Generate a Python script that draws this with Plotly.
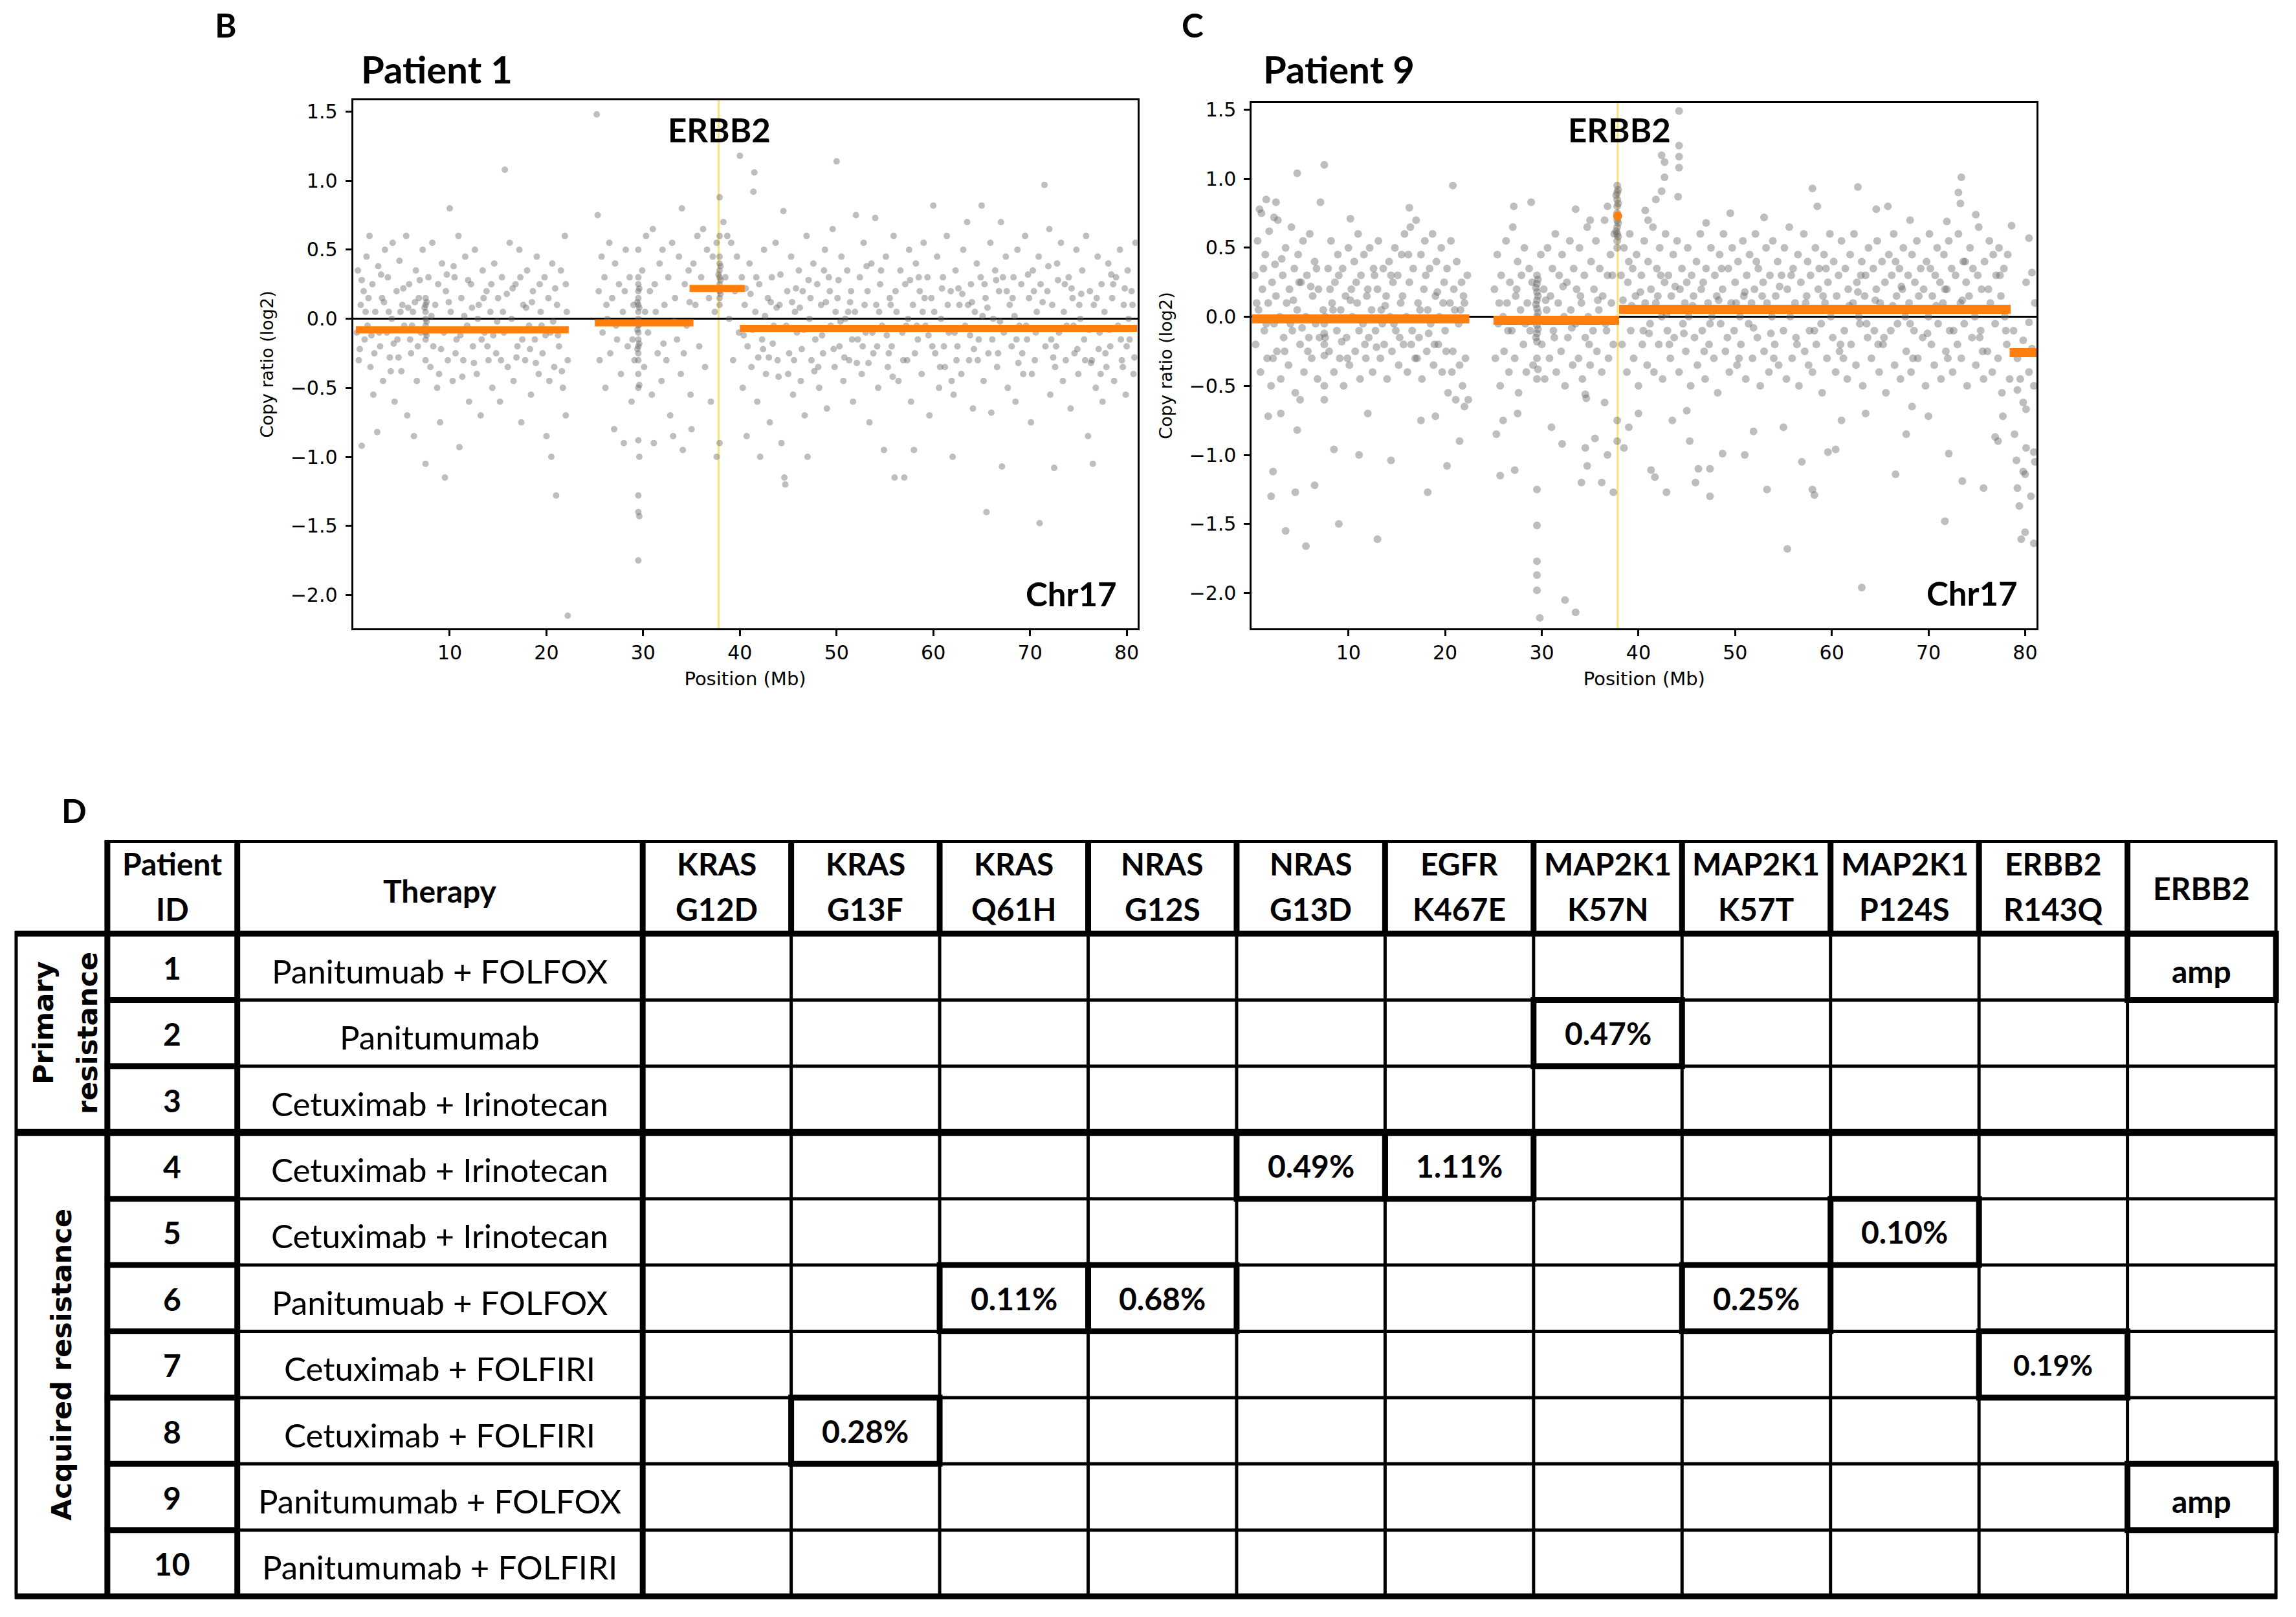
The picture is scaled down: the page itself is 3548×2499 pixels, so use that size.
import plotly.graph_objects as go

W, H = 3548, 2499

# ---------------- panel B: Patient 1, chr17 copy ratio (Mb, log2) ----------------
P1_POINTS = [
    (0.5,0.35),(0.6,-0.3),(0.8,0.1),(0.9,-0.92),(1.1,0.2),(1.2,-0.15),(1.4,0.45),(1.5,-0.05),(1.7,0.6),(1.8,-0.35),
    (2.0,0.25),(2.1,-0.55),(2.3,0.05),(2.5,-0.82),(2.6,0.38),(2.8,-0.2),(3.0,0.15),(3.1,-0.45),(3.3,0.5),(3.5,-0.1),
    (3.6,0.3),(3.8,-0.28),(4.0,0.0),(4.1,0.55),(4.3,-0.6),(4.5,0.2),(4.6,-0.15),(4.8,0.42),(5.0,-0.38),(5.1,0.1),
    (5.3,-0.05),(5.5,0.6),(5.6,-0.7),(5.8,0.25),(6.0,-0.25),(6.2,0.05),(6.3,-0.85),(6.5,0.35),(6.6,-0.45),(6.8,0.15),
    (7.0,-0.1),(7.2,0.5),
    (7.5,0.15),(7.5,0.1),(7.5,0.05),(7.5,0.0),(7.5,-0.05),(7.5,-0.1),(7.5,-0.15),(7.6,0.12),(7.6,-0.02),(7.6,-0.12),
    (7.4,0.08),(7.4,-0.08),(7.5,-1.05),(7.5,-0.3),
    (7.8,0.3),(8.0,-0.35),(8.2,0.55),(8.3,-0.2),(8.5,0.1),(8.7,-0.5),(8.8,0.25),(9.0,-0.75),(9.2,0.4),(9.4,-0.1),
    (9.5,-1.15),(9.6,0.2),(9.8,-0.3),(10.0,0.8),(10.1,0.05),(10.3,-0.45),(10.5,0.3),(10.7,-0.15),(10.9,0.6),(11.0,-0.93),
    (11.2,0.15),(11.4,-0.3),(11.6,0.45),(11.8,-0.05),(12.0,-0.6),(12.2,0.25),(12.4,-0.2),(12.6,0.5),(12.8,-0.4),(13.0,0.1),
    (13.2,-0.7),(13.4,0.35),(13.6,-0.1),(13.8,0.2),(14.0,-0.3),(14.2,0.05),(14.4,-0.5),(14.6,0.4),(14.8,-0.25),(15.0,0.15),
    (15.2,-0.6),(15.4,0.3),(15.6,-0.1),(15.7,1.08),(16.0,-0.35),(16.2,0.55),(16.4,0.0),(16.6,-0.45),(16.8,0.25),(17.0,-0.2),
    (17.2,0.5),(17.4,-0.75),(17.6,0.1),(17.8,-0.3),(18.0,0.35),(18.2,-0.05),(18.4,-0.55),(18.6,0.2),(18.8,-0.15),(19.0,0.45),
    (19.2,-0.4),(19.4,0.05),(19.6,-0.25),(19.8,0.3),(20.0,-0.85),(20.2,0.15),(20.4,-0.1),(20.5,-1.0),(20.6,0.4),(20.8,-0.35),
    (21.0,-1.28),(21.1,0.1),(21.3,-0.2),(21.5,0.35),(21.7,-0.5),(21.9,0.6),(22.0,-0.7),(22.1,0.05),(22.2,-2.15),(22.2,-0.3),
    (0.4,-0.1),(1.3,0.05),(2.2,-0.25),(3.2,0.12),(4.2,-0.18),(5.2,0.22),(6.1,-0.05),(6.9,0.28),(8.1,0.02),(9.1,-0.22),
    (9.9,0.12),(11.1,-0.12),(11.9,0.28),(12.9,0.0),(13.9,-0.2),(14.9,-0.02),(15.9,0.18),(16.9,-0.28),(17.9,0.08),(18.9,-0.32),
    (19.9,-0.12),(20.9,0.22),(21.8,-0.08),
    (0.7,-0.22),(1.6,0.15),(2.7,-0.1),(3.7,0.05),(4.7,-0.28),(5.7,0.08),(6.7,-0.2),(8.6,-0.08),(9.7,0.32),(10.6,-0.25),
    (11.5,0.02),(12.5,-0.32),(13.5,0.15),(14.5,-0.12),(15.5,0.05),(16.5,0.22),(17.5,-0.15),(18.5,0.12),(19.5,-0.05),(20.3,-0.45),
    (21.2,-0.12),(22.0,0.25),
    (0.9,0.28),(1.9,-0.12),(2.9,0.32),(3.9,-0.38),(4.9,0.05),(5.9,-0.15),(6.4,0.12),(8.9,-0.4),(10.4,0.38),(11.3,-0.42),
    (12.3,0.08),(13.3,-0.15),(14.3,0.25),(15.3,-0.3),(16.3,-0.08),(17.3,0.3),(18.3,-0.22),(19.3,0.25),(20.7,-0.02),(21.6,-0.38),
    (25.2,1.48),(25.3,0.75),(25.4,0.2),(25.5,-0.3),(25.7,0.45),(25.8,-0.1),(26.0,0.3),(26.1,-0.5),(26.3,0.0),(26.5,0.55),
    (26.6,-0.25),(26.8,0.15),(27.0,-0.8),(27.1,0.4),(27.3,-0.15),(27.5,0.25),(27.7,-0.4),(27.9,0.05),(28.0,-0.9),(28.2,0.5),
    (28.4,-0.2),(28.6,0.3),(28.8,-0.6),(29.0,0.1),(29.1,-0.3),
    (29.5,0.3),(29.5,0.25),(29.5,0.2),(29.5,0.15),(29.5,0.1),(29.5,0.05),(29.5,0.0),(29.5,-0.05),(29.5,-0.1),(29.5,-0.15),
    (29.5,-0.2),(29.5,-0.25),(29.5,-0.3),(29.6,0.22),(29.6,0.08),(29.6,-0.04),(29.6,-0.18),(29.4,0.12),(29.4,-0.08),(29.4,-0.22),
    (29.5,-0.5),(29.6,-0.48),(29.5,-0.88),(29.6,-1.0),(29.5,-1.28),(29.5,-1.4),(29.6,-1.43),(29.5,-1.75),(29.5,0.5),(29.5,-0.4),
    (29.9,0.35),(30.1,-0.35),(30.3,0.6),(30.5,-0.1),(30.7,0.2),(30.9,-0.55),(31.0,0.65),(31.1,-0.9),(31.3,0.05),(31.5,-0.25),
    (31.7,0.4),(31.9,-0.45),(32.0,0.5),(32.2,0.1),(32.4,-0.3),(32.6,0.3),(32.8,-0.7),(33.0,0.55),(33.1,-0.85),(33.3,0.15),
    (33.5,-0.15),(33.7,0.45),(33.9,-0.4),(34.0,0.8),(34.1,-0.95),(34.3,0.25),(34.5,-0.05),(34.7,0.35),(34.9,-0.55),(35.0,-0.8),
    (26.2,0.1),(27.2,-0.05),(28.1,0.2),(28.9,-0.15),(30.2,0.05),(31.2,0.25),(32.1,-0.18),(33.2,-0.02),(34.2,-0.25),(34.8,0.12),
    (35.2,0.4),(35.4,0.1),(35.6,0.6),(35.8,-0.2),(36.0,0.3),(36.2,0.65),(36.4,-0.35),(36.6,0.5),(36.8,0.15),(37.0,-0.6),
    (37.2,0.45),(37.4,0.05),(37.6,0.55),(37.6,-1.0),
    (37.9,0.45),(37.9,0.4),(37.9,0.35),(37.9,0.3),(37.9,0.25),(37.9,0.2),(37.9,0.15),(37.9,0.1),(38.0,0.38),(38.0,0.28),
    (38.0,0.18),(37.8,0.32),(37.8,0.22),(37.9,0.88),(37.9,0.6),(37.9,-0.9),
    (38.3,0.7),(38.5,0.3),(38.7,0.6),(38.9,0.0),(39.1,0.55),(39.3,-0.3),(39.5,0.2),(39.7,0.45),(39.9,-0.1),
    (40.0,1.18),(40.2,0.3),(40.3,-0.5),(40.5,0.1),(40.7,-0.85),(40.8,-0.2),(41.0,0.4),(41.2,-0.35),(41.4,0.92),(41.5,1.06),
    (41.6,0.05),(41.8,-0.6),(42.0,0.25),(42.1,-1.0),(42.3,-0.15),(42.5,0.5),(42.7,-0.4),(42.9,0.15),(43.1,-0.75),(43.3,0.3),
    (43.5,-0.05),(43.7,0.55),(43.9,-0.3),(44.1,0.1),(44.3,-0.9),(44.5,0.78),(44.6,-1.15),(44.7,-1.2),(44.9,0.2),(45.1,-0.25),
    (45.3,0.45),(45.5,-0.55),(45.7,0.05),(45.9,-0.1),(46.1,0.35),(46.3,-0.45),(46.5,0.2),(46.7,-0.7),(46.9,0.6),(47.0,-1.0),
    (47.2,0.0),(47.4,-0.3),(47.6,0.4),(47.8,-0.15),(48.0,0.25),(48.2,-0.5),(48.4,0.1),(48.6,-0.25),(48.8,0.5),(49.0,-0.65),
    (49.2,0.3),(49.4,-0.05),(49.6,0.65),(49.8,-0.35),(50.0,1.14),(50.1,0.15),(50.3,-0.2),(50.5,0.45),(50.7,-0.45),(50.9,0.0),
    (51.1,0.35),(51.3,-0.3),(51.5,0.2),(51.7,-0.6),(51.9,0.05),(52.0,0.75),(52.2,-0.15),(52.4,0.3),(52.6,-0.4),(52.8,0.55),
    (53.0,-0.1),(53.2,0.2),(53.4,-0.75),(53.6,0.4),(53.8,-0.25),(54.0,0.73),(54.1,0.1),(54.3,-0.5),(54.5,0.25),(54.7,-0.05),
    (54.9,-0.95),(55.1,0.45),(55.3,-0.35),(55.5,0.15),(55.7,-0.2),(55.9,0.6),(56.0,-1.15),(56.2,0.05),(56.4,-0.45),(56.6,0.35),
    (56.8,-0.1),(57.0,-1.15),(57.1,0.25),(57.3,-0.3),(57.5,0.5),(57.7,-0.6),(57.9,0.1),(58.0,-0.95),(58.2,0.4),(58.4,-0.15),
    (58.6,0.2),(58.8,-0.4),(59.0,0.55),(59.2,-0.05),(59.4,0.3),(59.6,-0.7),(59.8,0.15),(60.0,0.82),(60.2,-0.25),(60.4,0.45),
    (60.6,-0.5),(60.8,0.0),(61.0,0.3),(61.2,-0.35),(61.4,0.6),(61.6,-0.1),(61.8,0.2),(62.0,-1.0),(62.1,-0.55),(62.3,0.35),
    (62.5,-0.2),(62.7,0.1),(62.9,-0.4),(63.1,0.5),(63.3,-0.05),(63.5,0.7),(63.7,-0.3),(63.9,0.25),(64.1,-0.65),(64.3,0.05),
    (64.5,0.4),(64.7,-0.15),(64.9,0.3),(65.0,0.82),(65.2,-0.45),(65.4,0.15),(65.5,-1.4),(65.7,-0.25),(65.9,0.55),(66.0,-0.68),
    (66.2,0.0),(66.4,0.35),(66.6,-0.35),(66.8,0.2),(67.0,0.7),(67.1,-1.07),(67.3,-0.1),(67.5,0.45),(67.7,-0.5),(67.9,0.1),
    (68.1,-0.2),(68.3,0.3),(68.5,-0.6),(68.7,0.5),(68.9,-0.05),(69.1,0.25),(69.3,-0.4),(69.5,0.6),(69.7,-0.15),(69.9,0.15),
    (70.1,-0.75),(70.3,0.35),(70.5,-0.3),(70.7,0.05),(70.9,0.45),(71.0,-1.48),(71.5,0.97),(71.6,-0.2),(71.8,0.2),(72.0,0.65),
    (72.1,-0.55),(72.3,0.1),(72.5,-1.08),(72.6,-0.35),(72.8,0.4),(73.0,-0.1),(73.2,0.55),(73.4,-0.45),(73.6,0.25),(73.8,-0.05),
    (74.0,0.3),(74.2,-0.65),(74.4,0.15),(74.6,-0.25),(74.8,0.5),(75.0,-0.4),(75.2,0.0),(75.4,0.35),(75.6,-0.15),(75.8,0.6),
    (76.0,-0.85),(76.2,0.2),(76.4,-0.3),(76.5,-1.05),(76.6,0.1),(76.8,-0.5),(77.0,0.45),(77.2,-0.1),(77.4,0.25),(77.5,-0.6),
    (77.7,0.05),(77.9,-0.35),(78.1,0.4),(78.3,-0.2),(78.5,0.15),(78.7,-0.45),(78.9,0.3),(79.1,-0.05),(79.3,0.5),(79.5,-0.3),
    (79.7,0.1),(79.9,-0.55),(80.1,0.35),(80.3,-0.15),(80.5,0.2),(80.7,-0.4),(80.9,0.55),
    (40.4,-0.12),(41.1,0.18),(41.9,-0.28),(42.6,0.02),(43.4,-0.18),(44.2,0.32),(45.0,-0.4),(45.8,0.22),(46.6,-0.08),(47.3,0.15),
    (48.1,-0.35),(48.9,0.12),(49.7,-0.22),(50.4,-0.02),(51.2,0.05),(52.1,-0.32),(52.9,0.1),(53.7,-0.1),(54.4,0.05),(55.2,-0.12),
    (56.1,0.2),(56.9,-0.3),(57.6,0.28),(58.3,-0.05),(59.1,0.15),(59.9,-0.2),(60.7,-0.35),(61.5,0.1),(62.2,-0.1),(63.0,0.18),
    (63.8,-0.12),(64.6,-0.3),(65.3,0.25),(66.1,-0.15),(66.9,-0.02),(67.6,0.2),(68.4,0.02),(69.2,-0.25),(69.8,0.32),(70.6,-0.1),
    (71.3,0.12),(72.2,-0.15),(72.9,0.28),(73.7,-0.3),(74.5,-0.05),(75.3,0.18),(76.1,-0.08),(76.9,0.15),(77.8,-0.25),(78.6,0.25),
    (79.4,-0.15),(80.2,0.0),(80.8,-0.28),(42.4,-0.22),(44.8,-0.05),(46.2,0.08),(48.7,0.35),(50.8,-0.28),(53.1,0.38),(55.8,-0.42),
    (58.9,0.05),(61.9,-0.45),(64.0,0.12),(66.5,0.28),(68.8,-0.32),(71.9,0.38),(74.9,-0.22),(77.3,-0.4),(79.8,0.22),
    (40.6,0.22),(41.3,-0.08),(43.0,-0.28),(43.8,0.08),(45.4,0.12),(46.4,-0.22),(47.7,-0.38),(49.3,0.2),(50.2,0.28),(51.6,-0.15),
    (53.3,-0.32),(54.2,-0.2),(55.6,0.1),(57.2,-0.05),(58.1,-0.25),(59.5,-0.12),(61.1,-0.2),(62.6,0.22),(64.2,-0.22),(65.1,0.02),
    (66.7,-0.25),(68.2,0.15),(69.6,-0.05),(70.4,0.2),(72.4,-0.28),(73.5,0.05),(75.1,0.1),(76.3,-0.32),(78.2,-0.08),(79.6,-0.35),
    (41.7,0.3),(43.2,0.12),(44.0,-0.42),(45.6,-0.3),(47.1,0.28),(48.5,-0.12),(49.9,0.05),(51.4,0.12),(52.7,-0.2),(54.6,0.35),
    (55.4,-0.25),(57.4,0.0),(58.5,0.3),(60.1,0.05),(60.9,0.22),(62.4,-0.3),(63.6,0.1),(65.6,0.08),(67.2,0.3),(68.6,-0.15),
    (70.2,-0.4),(71.1,0.25),(72.7,-0.2),(74.3,0.22),(75.7,-0.3),(77.1,-0.22),(78.4,0.32),(80.0,-0.2),(80.6,0.1),
]
# segmented copy ratio: (start Mb, end Mb, log2)
P1_SEGMENTS = [(0.3, 22.3, -0.08), (25.0, 35.2, -0.03), (34.8, 40.5, 0.22), (40.0, 81.1, -0.07)]
P1_FOCAL = []
P1_ERBB2 = 37.8

# ---------------- panel C: Patient 9 ----------------
P9_POINTS = [
    (0.3,0.3),(0.4,-0.2),(0.6,0.55),(0.7,0.05),(0.9,-0.4),(1.0,0.75),(1.1,0.2),(1.3,-0.1),(1.4,0.45),(1.6,-0.3),
    (1.7,0.1),(1.8,0.62),(2.0,-0.5),(2.1,0.25),(2.3,-0.05),(2.4,0.38),(2.6,-0.25),(2.7,0.7),(2.9,0.0),(3.0,-0.45),
    (3.2,0.3),(3.3,-0.15),(3.5,0.5),(3.6,0.1),(3.8,-0.35),(3.9,0.2),(4.1,0.65),(4.2,-0.1),(4.4,0.35),(4.5,-0.55),
    (4.7,0.05),(4.8,0.45),(5.0,-0.2),(5.1,0.25),(5.3,0.55),(5.4,-0.4),(5.6,0.0),(5.7,0.3),(5.9,-0.15),(6.0,0.6),
    (6.2,-0.3),(6.3,0.15),(6.5,0.4),(6.6,-0.05),(6.8,-0.45),(6.9,0.2),
    (7.4,0.05),(7.5,-0.05),(7.5,-0.12),(7.5,-0.2),(7.5,-0.28),(7.6,0.0),(7.6,-0.15),(7.5,-0.5),(7.5,-0.6),
    (7.9,0.35),(8.0,-0.25),(8.2,0.55),(8.3,0.1),(8.5,-0.4),(8.6,0.25),(8.8,-0.1),(8.9,0.45),(9.1,-0.3),(9.2,0.05),
    (9.4,0.35),(9.5,-0.5),(9.7,0.15),(9.8,-0.15),(10.0,0.5),(10.1,-0.35),(10.3,0.2),(10.4,0.0),(10.6,0.4),(10.7,-0.25),
    (10.9,0.1),(11.0,0.6),(11.2,-0.45),(11.3,0.3),(11.5,-0.05),(11.6,0.45),(11.8,-0.3),(11.9,0.15),(12.1,-0.15),(12.2,0.5),
    (12.4,0.05),(12.5,-0.4),(12.7,0.3),(12.8,-0.1),(13.0,0.2),(13.1,0.55),(13.3,-0.3),(13.4,0.05),(13.6,0.35),(13.7,-0.2),
    (13.9,0.15),(14.0,-0.45),(14.2,0.4),(14.3,0.0),(14.5,-0.25),(14.6,0.25),(14.8,0.5),(14.9,-0.1),(15.1,0.3),(15.2,-0.35),
    (15.4,0.1),(15.5,0.45),(15.7,-0.2),(15.8,0.6),(16.0,0.0),(16.1,-0.4),(16.3,0.25),(16.4,0.65),(16.6,-0.1),(16.7,0.35),
    (16.9,-0.3),(17.0,0.7),(17.2,0.1),(17.3,-0.15),(17.5,0.45),(17.6,-0.45),(17.8,0.2),(17.9,0.55),(18.1,-0.25),(18.2,0.05),
    (18.4,0.35),(18.5,-0.05),(18.7,0.6),(18.8,-0.35),(19.0,0.15),(19.1,0.4),(19.3,-0.2),(19.4,0.0),(19.6,0.5),(19.7,-0.4),
    (19.9,0.25),(20.0,-0.1),(20.2,0.35),(20.3,-0.55),(20.5,0.1),(20.6,0.55),(20.8,-0.25),(20.9,0.2),(21.1,-0.6),(21.2,0.4),
    (21.4,-0.05),(21.5,-0.35),(21.7,0.25),(21.8,-0.5),(22.0,0.1),(22.1,-0.3),(22.3,0.3),(22.4,-0.6),
    (0.5,0.1),(1.5,-0.05),(2.5,0.15),(3.4,-0.25),(4.3,0.12),(5.2,-0.08),(6.1,0.22),(7.0,-0.15),(8.4,0.05),(9.3,-0.18),
    (10.2,0.12),(11.1,-0.1),(12.0,0.2),(12.9,-0.22),(13.8,0.08),(14.7,-0.05),(15.6,0.15),(16.5,-0.2),(17.4,0.05),(18.3,-0.12),
    (19.2,0.18),(20.1,-0.25),(21.0,0.05),(21.9,0.15),
    (1.2,0.35),(2.2,-0.3),(3.1,0.42),(4.0,-0.05),(4.9,0.25),(5.8,-0.25),(6.7,0.35),(8.1,0.2),(9.0,0.3),(9.9,-0.3),
    (10.8,0.25),(11.7,-0.2),(12.6,0.35),(13.5,-0.05),(14.4,0.3),(15.3,-0.15),(16.2,0.45),(17.1,-0.3),(18.0,0.3),(18.9,-0.2),
    (19.8,0.1),(20.7,-0.4),(21.6,0.05),
    (4.7,1.04),(7.5,1.1),(7.1,0.83),(10.2,0.71),(20.8,0.95),(16.3,0.79),(1.7,-0.72),(2.0,-1.3),(2.2,-1.12),(3.5,-1.55),
    (4.5,-1.27),(5.6,-1.66),(6.5,-1.22),(8.5,-0.96),(9.0,-1.5),(11.1,-1.0),(13.0,-1.61),(14.4,-1.04),(18.2,-1.27),(20.2,-1.08),
    (4.7,-0.82),(5.0,-0.6),(3.0,-0.7),(19.0,-0.72),(17.5,-0.75),(21.5,-0.9),(22.0,-0.65),(0.8,0.78),(2.5,0.83),(12.0,-0.7),
    (1.5,0.85),(2.3,0.72),
    (25.1,0.2),(25.2,-0.3),(25.4,0.45),(25.5,-0.05),(25.7,-0.5),(25.8,0.3),(26.0,0.0),(26.1,-0.25),(26.3,0.55),(26.4,0.1),
    (26.6,-0.4),(26.7,0.25),(26.9,-0.1),(27.0,0.65),(27.2,-0.3),(27.3,0.15),(27.5,0.4),(27.6,-0.55),(27.8,0.05),(27.9,0.3),
    (28.1,-0.2),(28.2,0.5),(28.4,-0.4),(28.5,0.1),(28.7,0.35),(28.8,-0.1),(29.0,0.25),(29.1,-0.35),
    (29.5,0.3),(29.5,0.24),(29.5,0.18),(29.5,0.12),(29.5,0.06),(29.5,0.0),(29.5,-0.06),(29.5,-0.12),(29.5,-0.18),(29.6,0.27),
    (29.6,0.15),(29.6,0.03),(29.6,-0.09),(29.4,0.21),(29.4,0.09),(29.4,-0.03),(29.4,-0.15),(29.5,-0.3),(29.5,-0.45),(29.6,-0.38),
    (29.9,0.45),(30.0,-0.2),(30.2,0.2),(30.3,-0.45),(30.5,0.05),(30.6,0.5),(30.8,-0.3),(30.9,0.15),(31.1,0.35),(31.2,-0.1),
    (31.4,0.6),(31.5,-0.4),(31.7,0.1),(31.8,0.3),(32.0,-0.25),(32.1,0.45),(32.3,0.0),(32.4,-0.5),(32.6,0.25),(32.7,-0.15),
    (32.9,0.55),(33.0,0.05),(33.2,-0.35),(33.3,0.35),(33.5,-0.05),(33.6,0.2),(33.8,-0.3),(33.9,0.5),(34.1,0.1),(34.2,-0.45),
    (34.4,0.3),(34.5,-0.15),(34.7,0.65),(34.8,0.0),(35.0,-0.35),(35.1,0.4),(35.3,-0.1),(35.4,0.2),(35.6,0.55),(35.7,-0.25),
    (35.9,0.05),(36.0,0.35),(36.2,-0.4),(36.3,0.15),(36.5,0.7),(36.6,-0.05),(36.8,0.3),(36.9,-0.3),(37.1,0.45),(37.2,0.1),
    (37.4,-0.2),(37.5,0.6),
    (25.6,0.1),(26.5,-0.1),(27.4,0.2),(28.3,-0.05),(30.4,0.12),(31.3,-0.15),(32.2,0.22),(33.1,-0.08),(34.0,0.15),(34.9,-0.2),
    (35.8,0.12),(36.7,-0.1),(37.3,0.3),
    (25.7,-1.15),(27.2,-1.11),(29.5,-1.25),(29.5,-1.51),(29.5,-1.77),(29.5,-1.87),(29.5,-1.98),(29.8,-2.18),(32.4,-2.05),(33.5,-2.14),
    (34.5,-0.95),(34.7,-1.08),(34.1,-1.2),(36.2,-1.2),(37.4,-1.27),(32.1,-0.92),(34.5,-0.56),(34.6,-0.59),(36.5,-0.62),(27.1,0.8),
    (28.9,0.83),(33.5,0.78),(35.0,0.7),(36.8,0.8),(26.0,-0.75),(25.3,-0.85),(27.5,-0.7),(31.0,-0.8),(35.5,-0.88),(36.8,-1.0),
    (37.8,0.95),(37.8,0.9),(37.8,0.85),(37.8,0.8),(37.8,0.75),(37.8,0.7),(37.8,0.65),(37.8,0.6),(37.8,0.55),(37.8,0.5),
    (37.9,0.92),(37.9,0.82),(37.9,0.68),(37.9,0.58),(37.7,0.88),(37.7,0.62),(37.8,-0.9),(37.8,-0.75),
    (38.2,0.3),(38.3,-0.2),(38.5,0.5),(38.6,0.05),(38.8,-0.4),(38.9,0.25),(39.1,0.6),(39.2,-0.1),(39.4,0.35),(39.5,-0.3),
    (39.7,0.15),(39.8,0.45),(40.0,-0.5),(40.1,0.05),(40.3,0.3),(40.4,-0.2),(40.6,0.55),(40.7,0.1),(40.9,-0.35),(41.0,0.4),
    (41.2,-0.05),(41.3,0.2),(41.5,0.65),(41.6,-0.4),(41.8,0.1),(41.9,0.35),(42.1,-0.2),(42.2,0.5),(42.4,0.0),(42.5,-0.45),
    (42.7,0.25),(42.8,0.6),(43.0,-0.1),(43.1,0.3),(43.3,-0.3),(43.4,0.15),(43.6,0.45),(43.7,-0.15),(43.9,0.05),(44.0,0.55),
    (44.2,-0.4),(44.3,0.2),(44.5,0.35),(44.6,-0.05),(44.8,0.1),(44.9,-0.25),(45.1,0.5),(45.2,0.0),(45.4,-0.5),(45.5,0.3),
    (45.7,0.15),(45.8,-0.15),(46.0,0.4),(46.1,-0.35),(46.3,0.05),(46.4,0.6),(46.6,-0.1),(46.7,0.25),(46.9,-0.45),(47.0,0.35),
    (47.2,0.1),(47.3,-0.2),(47.5,0.5),(47.6,0.0),(47.8,-0.3),(47.9,0.3),(48.1,0.15),(48.2,-0.55),(48.4,0.45),(48.5,-0.05),
    (48.7,0.2),(48.8,0.6),(49.0,-0.25),(49.1,0.05),(49.3,0.35),(49.4,-0.4),(49.6,0.1),(49.7,0.5),(49.9,-0.1),(50.0,0.25),
    (50.2,-0.35),(50.3,0.4),(50.5,0.0),(50.6,-0.2),(50.8,0.55),(50.9,0.15),(51.1,-0.45),(51.2,0.3),(51.4,-0.05),(51.5,0.45),
    (51.7,0.1),(51.8,-0.3),(52.0,0.2),(52.1,0.6),(52.3,-0.15),(52.4,0.35),(52.6,-0.5),(52.7,0.05),(52.9,0.25),(53.0,-0.25),
    (53.2,0.5),(53.3,0.1),(53.5,-0.4),(53.6,0.3),(53.8,0.0),(53.9,0.55),(54.1,-0.2),(54.2,0.15),(54.4,0.4),(54.5,-0.35),
    (54.7,0.05),(54.8,0.3),(55.0,-0.1),(55.1,0.5),(55.3,-0.45),(55.4,0.2),(55.6,0.65),(55.7,0.0),(55.9,-0.3),(56.0,0.35),
    (56.2,0.1),(56.3,-0.15),(56.5,0.45),(56.6,-0.5),(56.8,0.25),(56.9,0.05),(57.1,0.6),(57.2,-0.25),(57.4,0.15),(57.5,0.4),
    (57.7,-0.1),(57.8,0.3),(58.0,-0.4),(58.1,0.05),(58.3,0.5),(58.4,-0.2),(58.6,0.2),(58.7,0.35),(58.9,-0.05),(59.0,-0.55),
    (59.2,0.45),(59.3,0.1),(59.5,-0.3),(59.6,0.25),(59.8,0.6),(59.9,0.0),(60.1,-0.15),(60.2,0.4),(60.4,-0.4),(60.5,0.15),
    (60.7,0.3),(60.8,-0.25),(61.0,0.55),(61.1,0.05),(61.3,-0.1),(61.4,0.35),(61.6,-0.45),(61.7,0.2),(61.9,0.45),(62.0,-0.2),
    (62.2,0.1),(62.3,0.6),(62.5,-0.35),(62.6,0.25),(62.8,0.0),(62.9,-0.05),(63.1,0.4),(63.2,-0.5),(63.4,0.15),(63.5,0.3),
    (63.7,-0.15),(63.8,0.5),(64.0,0.05),(64.1,-0.3),(64.3,0.35),(64.4,-0.1),(64.6,0.2),(64.7,0.55),(64.9,-0.4),(65.0,0.1),
    (65.2,0.4),(65.3,-0.2),(65.5,0.25),(65.6,-0.55),(65.8,0.05),(65.9,0.45),(66.1,-0.1),(66.2,0.3),(66.4,0.6),(66.5,-0.35),
    (66.7,0.15),(66.8,-0.05),(67.0,0.35),(67.1,-0.45),(67.3,0.2),(67.4,0.5),(67.6,0.0),(67.7,-0.25),(67.9,0.3),(68.0,0.1),
    (68.2,-0.4),(68.3,0.45),(68.5,-0.1),(68.6,0.25),(68.8,0.55),(68.9,-0.3),(69.1,0.05),(69.2,0.35),(69.4,-0.15),(69.5,0.2),
    (69.7,-0.5),(69.8,0.4),(70.0,0.0),(70.1,0.6),(70.3,-0.2),(70.4,0.15),(70.6,-0.35),(70.7,0.3),(70.9,0.5),(71.0,-0.05),
    (71.2,0.25),(71.3,-0.45),(71.5,0.1),(71.6,0.45),(71.8,-0.25),(71.9,0.2),(72.1,0.55),(72.2,-0.1),(72.4,0.35),(72.5,-0.4),
    (72.7,0.05),(72.8,0.3),(73.0,-0.2),(73.1,0.6),(73.3,0.1),(73.4,-0.3),(73.6,0.4),(73.7,-0.05),(73.9,0.25),(74.0,-0.5),
    (74.2,0.15),(74.3,0.5),(74.5,-0.15),(74.6,0.35),(74.8,0.0),(74.9,-0.35),(75.1,0.3),(75.2,0.65),(75.4,-0.1),(75.5,0.2),
    (75.7,-0.45),(75.8,0.4),(76.0,0.05),(76.1,-0.25),(76.3,0.55),(76.4,0.1),(76.6,-0.4),(76.7,0.45),(76.9,-0.05),(77.0,0.3),
    (77.2,-0.3),(77.3,0.5),(77.5,0.15),(77.6,-0.55),(77.8,0.35),(77.9,0.0),(78.1,-0.2),(78.2,0.45),(78.4,-0.45),
    (38.4,0.12),(39.3,0.08),(40.2,0.18),(41.1,-0.12),(42.0,0.15),(42.9,0.02),(43.8,0.22),(44.7,-0.12),(45.6,0.08),(46.5,0.2),
    (47.4,-0.05),(48.3,0.12),(49.2,-0.15),(50.1,0.1),(51.0,0.18),(51.9,-0.08),(52.8,0.15),(53.7,-0.12),(54.6,0.22),(55.5,0.05),
    (56.4,-0.2),(57.3,0.1),(58.2,-0.1),(59.1,0.15),(60.0,0.05),(60.9,-0.2),(61.8,0.08),(62.7,0.18),(63.6,-0.05),(64.5,0.12),
    (65.4,-0.15),(66.3,0.08),(67.2,0.22),(68.1,-0.05),(69.0,0.15),(69.9,-0.12),(70.8,0.08),(71.7,0.2),(72.6,-0.1),(73.5,0.12),
    (74.4,0.05),(75.3,-0.15),(76.2,0.2),(77.1,0.05),(78.0,-0.1),
    (39.0,0.4),(40.5,-0.1),(42.3,0.3),(43.2,-0.2),(45.0,0.25),(46.8,-0.25),(48.6,0.35),(50.4,-0.3),(52.2,0.4),(54.0,-0.3),
    (55.8,0.3),(57.6,-0.35),(59.4,0.35),(61.2,-0.3),(63.0,0.3),(64.8,-0.2),(66.6,0.4),(68.4,-0.3),(70.2,0.35),(72.0,-0.3),
    (73.8,0.4),(75.6,-0.25),(77.4,0.3),
    (44.2,1.49),(44.2,1.24),(44.2,1.16),(44.2,1.08),(42.4,1.17),(42.7,1.12),(42.7,1.01),(42.4,0.91),(41.8,0.85),(40.7,0.77),
    (41.0,0.7),(44.1,0.87),(41.3,-1.11),(41.7,-1.16),(42.9,-1.27),(45.9,-1.2),(47.4,-1.3),(45.3,-0.9),(46.2,-1.1),(47.4,-1.1),
    (39.0,-0.8),(40.0,-0.7),(43.5,-0.75),(38.5,-0.95),
    (58.0,0.93),(58.5,0.8),(62.7,0.94),(64.6,0.78),(65.8,0.8),(68.1,0.7),(73.4,1.01),(73.1,0.9),(73.3,0.82),(74.9,0.74),
    (71.9,0.69),(78.6,0.66),(55.4,-1.68),(63.1,-1.96),(71.7,-1.48),(58.0,-1.25),(58.2,-1.29),(59.6,-0.98),(60.4,-0.96),(66.6,-1.14),
    (53.3,-1.25),(51.9,-0.83),(51.0,-1.0),(48.7,-0.99),(56.9,-1.05),(67.7,-0.85),(68.3,-0.65),(72.1,-0.99),(73.5,-1.19),(75.7,-1.24),
    (76.9,-0.87),(77.2,-0.9),(77.7,-0.72),(49.5,0.75),(53.0,0.72),(47.0,0.68),(61.0,-0.75),(63.5,-0.7),(70.0,-0.72),(55.0,-0.8),
    (45.0,-0.68),
    (79.1,-1.04),(79.2,-1.24),(79.4,-1.37),(79.6,-1.61),(80.0,-1.56),(79.8,-1.12),(80.0,-1.14),(80.1,-0.95),(80.9,-0.98),(80.9,-1.64),
    (80.1,-0.67),(79.2,-0.53),(79.8,-0.62),(80.4,-0.4),(80.7,-0.23),(80.4,-0.04),(79.8,-0.17),(79.2,-0.3),(80.1,0.25),(80.4,0.57),
    (80.7,0.32),(78.8,-0.1),(79.5,-0.45),(80.9,-0.5),(81.0,0.1),(78.9,-0.85),(80.6,-1.3),(81.0,-1.05),
]
P9_SEGMENTS = [(0.0, 22.5, -0.015), (25.0, 38.0, -0.025), (38.0, 78.5, 0.055), (78.4, 81.2, -0.26)]
P9_FOCAL = [(37.85, 0.73)]
P9_ERBB2 = 37.85

X_TICKS = [10, 20, 30, 40, 50, 60, 70, 80]
Y_TICKS = [-2.0, -1.5, -1.0, -0.5, 0.0, 0.5, 1.0, 1.5]

# ---------------- panel D: table ----------------
GENES = ["KRAS", "KRAS", "KRAS", "NRAS", "NRAS", "EGFR", "MAP2K1", "MAP2K1", "MAP2K1", "ERBB2", "ERBB2"]
VARIANTS = ["G12D", "G13F", "Q61H", "G12S", "G13D", "K467E", "K57N", "K57T", "P124S", "R143Q", ""]
PATIENT_IDS = [1, 2, 3, 4, 5, 6, 7, 8, 9, 10]
THERAPIES = ["Panitumuab + FOLFOX", "Panitumumab", "Cetuximab + Irinotecan", "Cetuximab + Irinotecan",
             "Cetuximab + Irinotecan", "Panitumuab + FOLFOX", "Cetuximab + FOLFIRI", "Cetuximab + FOLFIRI",
             "Panitumumab + FOLFOX", "Panitumumab + FOLFIRI"]
GROUPS = [("Primary", "resistance", 0, 3), ("Acquired resistance", None, 3, 10)]
# (patient id, gene column index, finding)
FINDINGS = [(1, 10, "amp"), (2, 6, "0.47%"), (4, 4, "0.49%"), (4, 5, "1.11%"), (5, 8, "0.10%"),
            (6, 2, "0.11%"), (6, 3, "0.68%"), (6, 7, "0.25%"), (7, 9, "0.19%"), (8, 1, "0.28%"), (9, 10, "amp")]

# ---------------- layout geometry (pixels in the page) ----------------
PAGE_OFF = 8  # default body margin of the html page

def px(x):
    return (x - PAGE_OFF) / W

def py(y):
    return 1 - (y - PAGE_OFF) / H

SANS = "Lato"
MPL = "DejaVu Sans"
GRAY = "rgba(100,100,100,0.42)"
ORANGE = "#ff7f0e"
YELLOW = "#ffe27a"

fig = go.Figure()

panels = [
    dict(points=P1_POINTS, segs=P1_SEGMENTS, focal=P1_FOCAL, erbb2=P1_ERBB2, xa="x", ya="y",
         xdom=(546, 1759), ydom=(148, 967), xr=(0.0, 81.1), yr=(-2.243, 1.584), msize=10, segw=11,
         title="Patient 1", tx=556, letter="B", lx=349, erbb2_lab=(37.9, 1.37), chr_lab=(74.3, -1.99)),
    dict(points=P9_POINTS, segs=P9_SEGMENTS, focal=P9_FOCAL, erbb2=P9_ERBB2, xa="x2", ya="y2",
         xdom=(1936, 3150), ydom=(152, 967), xr=(0.0, 81.2), yr=(-2.257, 1.551), msize=12, segw=14,
         title="Patient 9", tx=1952, letter="C", lx=1845, erbb2_lab=(38.0, 1.355), chr_lab=(74.5, -2.0)),
]

shapes = []
annotations = []

def paper_text(text, x, y, size, bold=True, family=SANS, angle=0, xanchor="center"):
    annotations.append(dict(text=text, x=px(x), y=py(y), xref="paper", yref="paper", showarrow=False,
                            xanchor=xanchor, yanchor="middle", textangle=angle,
                            font=dict(family=family, size=size, color="black",
                                      weight="bold" if bold else "normal")))

for i, p in enumerate(panels):
    xs = [a for a, b in p["points"]]
    ys = [b for a, b in p["points"]]
    fig.add_trace(go.Scatter(x=xs, y=ys, mode="markers", xaxis=p["xa"], yaxis=p["ya"],
                             marker=dict(size=p["msize"], color=GRAY, line=dict(width=0)),
                             showlegend=False, hoverinfo="skip"))
    for (x0, x1, v) in p["segs"]:
        fig.add_trace(go.Scatter(x=[x0, x1], y=[v, v], mode="lines", xaxis=p["xa"], yaxis=p["ya"],
                                 line=dict(color=ORANGE, width=p["segw"]), showlegend=False, hoverinfo="skip"))
    if p["focal"]:
        fig.add_trace(go.Scatter(x=[a for a, b in p["focal"]], y=[b for a, b in p["focal"]], mode="markers",
                                 xaxis=p["xa"], yaxis=p["ya"], marker=dict(size=14, color=ORANGE),
                                 showlegend=False, hoverinfo="skip"))
    shapes.append(dict(type="line", xref=p["xa"], yref=p["ya"] + " domain", x0=p["erbb2"], x1=p["erbb2"],
                       y0=0, y1=1, line=dict(color=YELLOW, width=3), layer="below"))
    suffix = "" if i == 0 else "2"
    axis_common = dict(showline=True, mirror=True, linecolor="black", linewidth=3, showgrid=False,
                       ticks="outside", ticklen=9, tickwidth=2.5, tickcolor="black",
                       tickfont=dict(family=MPL, size=30, color="black"))
    fig.update_layout(**{
        "xaxis" + suffix: dict(domain=[px(p["xdom"][0]), px(p["xdom"][1])], range=list(p["xr"]),
                               anchor="y" + suffix, tickvals=X_TICKS, ticktext=[str(t) for t in X_TICKS],
                               zeroline=False, ticklabelstandoff=0,
                               title=dict(text="Position (Mb)", font=dict(family=MPL, size=29, color="black"),
                                          standoff=14),
                               **axis_common),
        "yaxis" + suffix: dict(domain=[py(p["ydom"][1]), py(p["ydom"][0])], range=list(p["yr"]),
                               anchor="x" + suffix, tickvals=Y_TICKS,
                               ticktext=[("\u2212%.1f" % -t) if t < 0 else "%.1f" % t for t in Y_TICKS],
                               zeroline=True, zerolinecolor="black", zerolinewidth=3, ticklabelstandoff=6,
                               title=dict(text="Copy ratio (log2)", font=dict(family=MPL, size=27, color="black"),
                                          standoff=19),
                               **axis_common),
    })
    annotations.append(dict(text="ERBB2", x=p["erbb2_lab"][0], y=p["erbb2_lab"][1], xref=p["xa"], yref=p["ya"],
                            showarrow=False, xanchor="center", yanchor="middle",
                            font=dict(family=SANS, size=51, color="black", weight="bold")))
    annotations.append(dict(text="Chr17", x=p["chr_lab"][0], y=p["chr_lab"][1], xref=p["xa"], yref=p["ya"],
                            showarrow=False, xanchor="center", yanchor="middle",
                            font=dict(family=SANS, size=51, color="black", weight="bold")))
    paper_text(p["title"], p["tx"], 100, 58, xanchor="left")
    paper_text(p["letter"], p["lx"], 32, 51)

paper_text("D", 115, 1249, 51)

# ---------------- table ----------------
T_LEFT, ID_L, TH_L, GENE_L, T_RIGHT = 23, 166, 367, 994, 3520
HEAD_TOP, HEAD_BOT, T_BOT = 1297, 1440, 2467
n_genes = len(GENES)
gene_w = (T_RIGHT - GENE_L) / n_genes
col_edges = [T_LEFT, ID_L, TH_L] + [GENE_L + gene_w * k for k in range(n_genes + 1)]
row_h = (T_BOT - HEAD_BOT) / len(PATIENT_IDS)
row_edges = [HEAD_BOT + row_h * r for r in range(len(PATIENT_IDS) + 1)]
group_breaks = [g[3] for g in GROUPS[:-1]]

THIN, THICK, SEP = 5, 9, 11

def hline(y, x0, x1, w):
    shapes.append(dict(type="line", xref="paper", yref="paper", x0=px(x0), x1=px(x1), y0=py(y), y1=py(y),
                       line=dict(color="black", width=w)))

def vline(x, y0, y1, w):
    shapes.append(dict(type="line", xref="paper", yref="paper", x0=px(x), x1=px(x), y0=py(y0), y1=py(y1),
                       line=dict(color="black", width=w)))

# thin grid
hline(HEAD_TOP, ID_L - 4, T_RIGHT + 2, THIN)
vline(T_RIGHT, HEAD_TOP - 2, T_BOT + 4, THIN)
vline(T_LEFT + 2, HEAD_BOT - 4, T_BOT + 4, THIN)
for r in range(1, len(PATIENT_IDS)):
    if r not in group_breaks:
        hline(row_edges[r], TH_L, T_RIGHT, THIN)
for k in range(4, len(col_edges) - 1):
    vline(col_edges[k], HEAD_BOT, T_BOT, THIN)
# thick lines
for k in range(1, len(col_edges) - 1):
    vline(col_edges[k], HEAD_TOP - 2, HEAD_BOT, THICK)
for k in (1, 2, 3):
    vline(col_edges[k], HEAD_BOT, T_BOT + 4, THICK)
for r in range(1, len(PATIENT_IDS)):
    hline(row_edges[r], ID_L - 4, TH_L + 4, THICK)
hline(HEAD_BOT, T_LEFT, T_RIGHT + 2, THICK)
for r in group_breaks:
    hline(row_edges[r], T_LEFT, T_RIGHT + 2, SEP)
hline(T_BOT, T_LEFT, T_RIGHT + 2, THICK)

# highlighted finding cells
for pid, gi, txt in FINDINGS:
    r = PATIENT_IDS.index(pid)
    x0, x1 = col_edges[3 + gi], col_edges[4 + gi]
    y0, y1 = row_edges[r], row_edges[r + 1]
    shapes.append(dict(type="rect", xref="paper", yref="paper", x0=px(x0), x1=px(x1), y0=py(y0), y1=py(y1),
                       line=dict(color="black", width=THICK), fillcolor="rgba(0,0,0,0)"))
    paper_text(txt, (x0 + x1) / 2, (y0 + y1) / 2 + (6 if txt == "amp" else 0),
               44 if txt == "0.19%" else 48)

# header
id_c = (ID_L + TH_L) / 2
th_c = (TH_L + GENE_L) / 2
LINE1, LINE2, MID = 1331, 1401, 1369
paper_text("Patient", id_c, LINE1, 48)
paper_text("ID", id_c, LINE2, 48)
paper_text("Therapy", th_c, MID + 4, 48)
for k, (g, v) in enumerate(zip(GENES, VARIANTS)):
    xc = (col_edges[3 + k] + col_edges[4 + k]) / 2
    if v:
        paper_text(g, xc, LINE1, 48)
        paper_text(v, xc, LINE2, 48)
    else:
        paper_text(g, xc, MID, 48)

# body
for r, (pid, th) in enumerate(zip(PATIENT_IDS, THERAPIES)):
    yc = (row_edges[r] + row_edges[r + 1]) / 2
    paper_text(str(pid), id_c, yc + 1, 48)
    paper_text(th, th_c, yc + 6, 51, bold=False)

# group labels (rotated)
grp_c = (T_LEFT + ID_L) / 2
for first, second, r0, r1 in GROUPS:
    yc = (row_edges[r0] + row_edges[r1]) / 2
    if second:
        paper_text(first, grp_c - 28, yc - 16, 43, family=MPL, angle=-90)
        paper_text(second, grp_c + 40, yc, 43, family=MPL, angle=-90)
    else:
        paper_text(first, grp_c, yc, 43, family=MPL, angle=-90)

fig.update_layout(width=W, height=H, autosize=False, margin=dict(l=0, r=0, t=0, b=0),
                  paper_bgcolor="white", plot_bgcolor="white", showlegend=False,
                  shapes=shapes, annotations=annotations)

fig.write_html("out.html")
